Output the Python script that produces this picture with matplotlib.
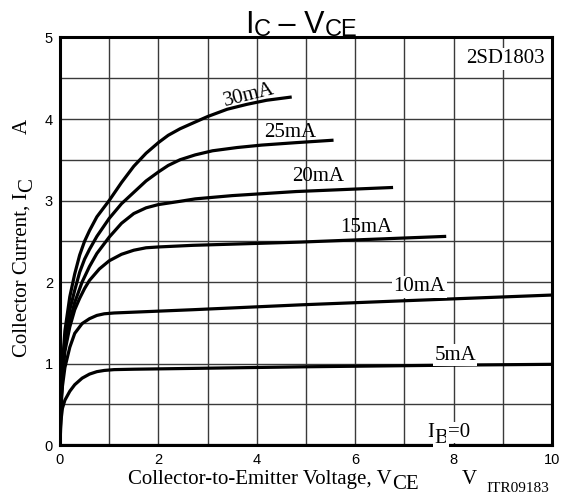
import matplotlib
matplotlib.use('Agg')
import matplotlib.pyplot as plt

# collector curves, IC (A) vs VCE (V), one pair of lists per base current
v_5ma  = [0, 0.02, 0.05, 0.1, 0.2, 0.3, 0.45, 0.6, 0.75, 0.9, 1.1, 1.5, 2.7, 5.0, 8.0, 10.0]
ic_5ma = [0, 0.30, 0.45, 0.55, 0.66, 0.74, 0.82, 0.87, 0.90, 0.915, 0.925, 0.93, 0.94, 0.96, 0.98, 0.99]

v_10ma  = [0, 0.02, 0.05, 0.1, 0.2, 0.3, 0.45, 0.6, 0.75, 0.9, 1.1, 1.5, 2.7, 4.9, 7.0, 10.0]
ic_10ma = [0, 0.45, 0.72, 0.95, 1.2, 1.37, 1.49, 1.55, 1.59, 1.61, 1.62, 1.63, 1.66, 1.72, 1.77, 1.84]

v_15ma  = [0, 0.02, 0.05, 0.1, 0.2, 0.3, 0.4, 0.5, 0.6, 0.8, 1.0, 1.25, 1.5, 1.75, 2.0, 2.7, 4.9, 7.85]
ic_15ma = [0, 0.5, 0.82, 1.15, 1.45, 1.66, 1.8, 1.92, 2.02, 2.16, 2.26, 2.34, 2.39, 2.42, 2.43, 2.45, 2.49, 2.56]

v_20ma  = [0, 0.02, 0.05, 0.1, 0.2, 0.3, 0.45, 0.6, 0.75, 0.9, 1.0, 1.25, 1.5, 1.75, 2.0, 2.44, 2.75, 3.5, 4.8, 6.77]
ic_20ma = [0, 0.52, 0.86, 1.2, 1.52, 1.75, 2.0, 2.19, 2.35, 2.47, 2.55, 2.72, 2.84, 2.91, 2.95, 2.99, 3.02, 3.06, 3.11, 3.16]

v_25ma  = [0, 0.02, 0.05, 0.1, 0.2, 0.3, 0.4, 0.5, 0.6, 0.75, 1.0, 1.25, 1.5, 1.75, 2.0, 2.2, 2.44, 2.75, 3.1, 3.6, 4.1, 4.8, 5.56]
ic_25ma = [0, 0.56, 0.92, 1.3, 1.66, 1.9, 2.12, 2.28, 2.4, 2.56, 2.78, 2.96, 3.1, 3.24, 3.35, 3.43, 3.5, 3.56, 3.61, 3.65, 3.68, 3.71, 3.74]

v_30ma  = [0, 0.02, 0.05, 0.1, 0.2, 0.3, 0.4, 0.5, 0.6, 0.75, 1.0, 1.25, 1.5, 1.75, 2.0, 2.2, 2.44, 2.7, 3.0, 3.4, 3.8, 4.2, 4.71]
ic_30ma = [0, 0.6, 0.98, 1.4, 1.82, 2.1, 2.33, 2.5, 2.63, 2.8, 3.0, 3.22, 3.42, 3.58, 3.71, 3.8, 3.88, 3.95, 4.03, 4.12, 4.18, 4.23, 4.27]

v_0ma  = [0, 10]
ic_0ma = [0, 0]

curves = [(v_5ma, ic_5ma), (v_10ma, ic_10ma), (v_15ma, ic_15ma),
          (v_20ma, ic_20ma), (v_25ma, ic_25ma), (v_30ma, ic_30ma),
          (v_0ma, ic_0ma)]

x_ticks = [0, 2, 4, 6, 8, 10]
y_ticks = [0, 1, 2, 3, 4, 5]

SERIF = 'Liberation Serif'
SANS  = 'Liberation Sans'
PX = 72 / 100  # points per pixel at dpi 100

fig = plt.figure(figsize=(5.75, 4.96), dpi=100)
ax = fig.add_axes([0.1043, 0.1028, 0.8557, 0.8216])

ax.set_xlim(0, 10)
ax.set_ylim(0, 5)
ax.set_xticks(range(11))
ax.set_yticks([i * 0.5 for i in range(11)])
ax.grid(True, color='#3a3a3a', lw=1.0)
ax.set_axisbelow(True)
ax.set_xticklabels([str(t) if t in x_ticks else '' for t in range(11)],
                   family=SANS, fontsize=10.5)
ax.set_yticklabels([str(int(t)) if t in y_ticks else ''
                    for t in [i * 0.5 for i in range(11)]],
                   family=SANS, fontsize=10.5)
ax.tick_params(axis='x', length=0, pad=6)
ax.tick_params(axis='y', length=0, pad=5)
for s in ax.spines.values():
    s.set_linewidth(2.2)

for v, ic in curves:
    ax.plot(v, ic, color='black', lw=2.3, solid_joinstyle='round',
            solid_capstyle='butt', zorder=3)

white = dict(facecolor='white', edgecolor='none', pad=1.0)
lab = dict(family=SERIF, fontsize=15, ha='center', va='center', zorder=4)
ax.text(3.84, 4.29, '30mA', rotation=14, **lab)
ax.text(4.67, 3.83, '25mA', **lab)
ax.text(5.24, 3.29, '20mA', **lab)
ax.text(6.22, 2.67, '15mA', **lab)
ax.text(7.30, 1.94, '10mA', bbox=white, **lab)
ax.text(8.03, 1.10, '5mA', bbox=white, **lab)
ax.text(9.05, 4.74, '2SD1803', bbox=white, **lab)


def chain(first, parts, rotated=False, box=None):
    # place text pieces one after another; dy>0 lowers a piece (subscript)
    prev = first
    for s, size, dy in parts:
        if rotated:
            prev = ax.annotate(s, xy=(1, 1), xycoords=prev, xytext=(dy * PX, 0),
                               textcoords='offset points', ha='right', va='bottom',
                               rotation=90, family=prev.get_family(), fontsize=size,
                               annotation_clip=False)
        else:
            prev = ax.annotate(s, xy=(1, 0), xycoords=prev, xytext=(0, -dy * PX),
                               textcoords='offset points', ha='left', va='bottom',
                               family=prev.get_family(), fontsize=size,
                               annotation_clip=False, bbox=box, zorder=4)
    return prev


# IB=0 label
ib = ax.text(7.46, 0.098, 'I', family=SERIF, fontsize=15, ha='left', va='baseline',
             bbox=white, zorder=4)
ib_b = chain(ib, [('B', 15, 6)], box=white)
chain(ib_b, [('=0', 15, -6)], box=white)

# title
t_i = fig.text(245 / 575, (496 - 33) / 496, 'I', family=SANS, fontsize=22,
               ha='left', va='baseline')
chain(t_i, [('C', 17, 1), (' – V', 22, -1), ('CE', 17, 1)])

# x axis label
xl = fig.text(128 / 575, (496 - 484) / 496, 'Collector-to-Emitter Voltage, V',
              family=SERIF, fontsize=15, ha='left', va='baseline')
chain(xl, [('CE', 15, 5)])
fig.text(469 / 575, (496 - 484) / 496, 'V', family=SERIF, fontsize=15,
         ha='center', va='baseline')
fig.text(486 / 575, (496 - 492) / 496, 'ITR09183', family=SERIF, fontsize=11,
         ha='left', va='baseline')

# y axis label
yl = fig.text(27 / 575, (496 - 357) / 496, 'Collector Current, I', family=SERIF,
              fontsize=15, rotation=90, rotation_mode='anchor',
              ha='left', va='baseline')
chain(yl, [('C', 15, 5)], rotated=True)
fig.text(27 / 575, (496 - 134) / 496, 'A', family=SERIF, fontsize=15, rotation=90,
         rotation_mode='anchor', ha='left', va='baseline')

fig.savefig('out.png', dpi=100)
